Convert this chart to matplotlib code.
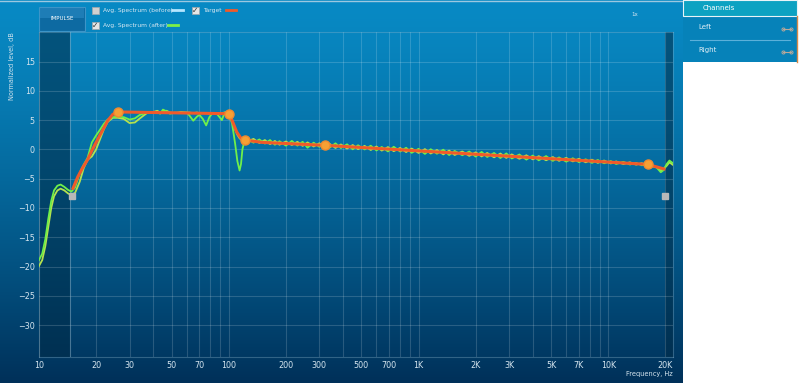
from __future__ import annotations

import matplotlib

matplotlib.use("Agg")
import matplotlib.pyplot as plt
import numpy as np
from matplotlib.lines import Line2D
from matplotlib.patches import Rectangle

# --- data --------------------------------------------------------------------
low_freq = [10, 10.4, 10.8, 11.2, 11.6, 12.0, 12.5, 13.0, 13.6, 14.2,
            14.8, 15.5, 16.4, 17.2, 18.0, 19.0, 20.0, 21.0, 22.0, 23.0,
            24.5, 26, 28, 30, 32, 34, 37, 40, 42, 43.5,
            45, 47, 49, 52, 56, 60, 62, 65, 68, 70,
            73, 76, 79, 82, 86, 89, 92, 95, 98, 100,
            104, 108, 111, 114, 116, 118, 121]
after_a_low = [-18.9, -17.8, -15.3, -11.8, -8.8, -7.0, -6.2, -6.0, -6.4, -6.9,
               -7.2, -6.5, -4.0, -2.6, -1.5, 1.2, 2.4, 3.4, 4.4, 5.1,
               5.5, 5.6, 5.5, 5.1, 5.3, 5.9, 6.3, 6.3, 6.4, 6.1,
               6.8, 6.5, 6.1, 6.3, 6.2, 6.3, 5.8, 4.9, 5.6, 5.9,
               5.2, 4.1, 5.5, 6.2, 6.2, 5.6, 5.0, 6.3, 6.3, 6.0,
               4.5, 1.0, -2.0, -3.6, -2.5, 0.0, 1.5]
after_b_low = [-19.9, -18.9, -16.5, -13.2, -10.0, -8.0, -7.0, -6.7, -7.0, -7.5,
               -7.8, -7.4, -5.5, -3.2, -1.8, -1.2, 0.0, 1.8, 3.5, 4.7,
               5.4, 5.4, 5.2, 4.5, 4.6, 5.3, 6.2, 6.4, 6.6, 6.3,
               6.5, 6.6, 6.3, 6.2, 6.4, 6.3, 6.3, 6.2, 6.3, 6.2,
               6.2, 6.2, 6.1, 6.2, 6.2, 6.1, 6.2, 6.3, 6.2, 6.1,
               5.0, 3.4, 2.5, 1.9, 1.7, 1.6, 1.5]

high_freq = [125, 135, 145, 155, 165, 175, 185, 200, 215, 230,
             245, 260, 280, 300, 320, 340, 365, 390, 420, 450,
             480, 520, 560, 600, 640, 690, 740, 800, 860, 920,
             1000, 1080, 1160, 1250, 1350, 1450, 1550, 1700, 1850, 2000,
             2150, 2300, 2500, 2700, 2900, 3100, 3400, 3700, 4000, 4300,
             4700, 5100, 5500, 6000, 6500, 7000, 7600, 8200, 8800, 9500,
             10300, 11000, 12000, 13000, 14000, 15000, 16000, 17000, 18000, 18900,
             19600, 20300, 21000, 21800]
after_a_high = [1.75, 1.15, 1.7, 1.0, 1.6, 0.8, 1.4, 0.65, 1.45, 0.65,
                1.3, 0.3, 1.15, 0.45, 1.1, 0.3, 1.04, 0.24, 0.87, 0.02,
                0.71, 0.0, 0.63, -0.17, 0.42, -0.34, 0.45, -0.36, 0.28, -0.58,
                0.1, -0.76, 0.03, -0.73, -0.05, -0.96, -0.26, -0.99, -0.36, -1.22,
                -0.43, -1.29, -0.61, -1.47, -0.68, -1.54, -0.87, -1.74, -1.05, -1.86,
                -1.14, -1.95, -1.37, -2.09, -1.51, -2.17, -1.69, -2.3, -1.81, -2.37,
                -1.99, -2.49, -2.12, -2.58, -2.29, -2.7, -2.6, -2.85, -3.1, -3.9,
                -3.5, -2.5, -1.9, -2.3]
after_b_high = [1.35, 1.8, 1.1, 1.6, 0.9, 1.45, 0.8, 1.35, 0.75, 1.3,
                0.6, 1.2, 0.5, 1.05, 0.4, 0.95, 0.25, 0.85, 0.15, 0.75,
                0.05, 0.6, -0.1, 0.5, -0.2, 0.4, -0.3, 0.25, -0.45, 0.15,
                -0.6, 0.05, -0.7, -0.1, -0.85, -0.2, -0.95, -0.35, -1.1, -0.5,
                -1.2, -0.6, -1.35, -0.7, -1.45, -0.85, -1.6, -1.0, -1.7, -1.15,
                -1.85, -1.3, -1.95, -1.45, -2.05, -1.6, -2.2, -1.75, -2.3, -1.9,
                -2.4, -2.05, -2.5, -2.2, -2.6, -2.35, -2.65, -2.8, -3.05, -3.6,
                -3.3, -2.8, -2.2, -2.6]

target_freq = [15, 16, 17, 18, 19, 20, 21, 22, 23, 24.5,
               26, 100, 104, 110, 116, 122, 150, 320, 16100, 20000]
target_db = [-6.9, -4.7, -3.1, -1.8, -0.2, 1.2, 2.5, 3.7, 4.9, 6.0,
             6.4, 6.1, 5.0, 3.0, 1.9, 1.6, 1.2, 0.7, -2.56, -3.4]

point_freq = [26, 100, 122, 320, 16100]
point_db = [6.4, 6.1, 1.6, 0.7, -2.56]

handle_freq = [15, 20000]
handle_db = [-7.9, -7.9]

x_ticks = [10, 20, 30, 50, 70, 100, 200, 300, 500, 700,
           1000, 2000, 3000, 5000, 7000, 10000, 20000]
x_labels = ["10", "20", "30", "50", "70", "100", "200", "300", "500", "700",
            "1K", "2K", "3K", "5K", "7K", "10K", "20K"]
x_minor = [40, 60, 80, 90, 400, 600, 800, 900, 4000, 6000, 8000, 9000]
y_ticks = [-30, -25, -20, -15, -10, -5, 0, 5, 10, 15]

W, H = 799, 383


def px(x, y):
    # pixel position (top-left origin) -> figure fraction
    return x / W, 1 - y / H


def fig_rect(fig, x0, y0, x1, y1, **kw):
    fx, fy = px(x0, y1)
    fig.add_artist(Rectangle((fx, fy), (x1 - x0) / W, (y1 - y0) / H,
                             transform=fig.transFigure, **kw))


def fig_line(fig, xs, ys, **kw):
    fig.add_artist(Line2D([x / W for x in xs], [1 - y / H for y in ys],
                          transform=fig.transFigure, **kw))


def checkbox(fig, x, y, checked):
    fig_rect(fig, x - 3.5, y - 3.5, x + 3.5, y + 3.5,
             facecolor="#d0d0d0" if not checked else "#e6e6e6",
             edgecolor="#9aa8b0", lw=0.6)
    if checked:
        fig.text(*px(x + 0.5, y), "\u2713", color="#303030", fontsize=5.5,
                 ha="center", va="center", fontweight="bold")


def main() -> None:
    fig = plt.figure(figsize=(W / 100, H / 100), dpi=100)
    fig.patch.set_facecolor("white")

    # gradient frame behind the chart
    bg = fig.add_axes([0, 0, 683 / W, 1])
    bg.set_axis_off()
    top = np.array([0.03, 0.54, 0.77])
    bot = np.array([0.0, 0.19, 0.35])
    t = np.linspace(0, 1, 256)[:, None]
    grad = top + (bot - top) * t ** 1.3
    bg.imshow(grad[:, None, :], aspect="auto", extent=[0, 1, 0, 1])
    bg.axhline(0.998, color="#9cc8e0", lw=1)

    x0, y_top = px(39, 32.3)
    x1, y_bot = px(673.3, 357.3)
    ax = fig.add_axes([x0, y_bot, x1 - x0, y_top - y_bot])
    ax.set_facecolor("none")
    ax.set_xscale("log")
    ax.set_xlim(10, 22000)
    ax.set_ylim(-35.5, 20)

    ax.axvspan(10, 14.6, color="#002a45", alpha=0.55, lw=0, zorder=0)
    ax.axvspan(20000, 22000, color="#002a45", alpha=0.55, lw=0, zorder=0)
    ax.axvline(14.6, color="#8fb0c4", alpha=0.5, lw=0.8)

    ax.set_xticks(x_ticks)
    ax.set_xticklabels(x_labels)
    ax.set_xticks(x_minor, minor=True)
    ax.set_yticks(y_ticks)
    ax.grid(True, which="both", color="white", alpha=0.16, lw=0.8)
    ax.tick_params(which="both", length=0, colors="#d4e4ee", labelsize=5.8)
    ax.tick_params(axis="x", pad=2.5)
    ax.tick_params(axis="y", pad=3)
    for s in ax.spines.values():
        s.set_color("#8fb6cc")
        s.set_alpha(0.35)
        s.set_linewidth(0.8)

    freq = low_freq + high_freq
    ax.plot(freq, after_b_low + after_b_high, color="#b4e24e", lw=1.3, zorder=3)
    ax.plot(freq, after_a_low + after_a_high, color="#6ff04a", lw=1.3, zorder=3)
    ax.plot(target_freq, target_db, color="#f05a2a", lw=2.2, zorder=4,
            solid_capstyle="butt")
    ax.plot(point_freq, point_db, "o", color="#f7a035", ms=6.5, mec="#f08a30",
            zorder=5)
    ax.plot(handle_freq, handle_db, "s", color="#b8b8b8", ms=4, zorder=5)

    fig.text(*px(12, 32), "Normalized level, dB", rotation=90, ha="center",
             va="top", fontsize=4.7, color="#d4e4ee")
    fig.text(*px(673, 374), "Frequency, Hz", ha="right", va="center",
             fontsize=4.8, color="#d4e4ee")

    # IMPULSE button
    fig_rect(fig, 39, 7, 85, 31, facecolor="#0d6aa2", edgecolor="#3d95c8", lw=0.8)
    fig_rect(fig, 40, 8, 84, 18, facecolor="#2a8bc4", lw=0, alpha=0.6)
    fig.text(*px(62, 19), "IMPULSE", ha="center", va="center", fontsize=4,
             color="white")

    # legend header
    text_kw = dict(fontsize=4.3, color="#d8e8f2", va="center", ha="left")
    checkbox(fig, 95, 10, False)
    fig.text(*px(103, 10.5), "Avg. Spectrum (before)", **text_kw)
    fig_line(fig, [172, 183], [10, 10], color="#b4e6ff", lw=2)
    checkbox(fig, 195, 10, True)
    fig.text(*px(203, 10.5), "Target", **text_kw)
    fig_line(fig, [226, 236], [10, 10], color="#f05a2a", lw=2)
    checkbox(fig, 95, 25, True)
    fig.text(*px(103, 25.5), "Avg. Spectrum (after)", **text_kw)
    fig_line(fig, [168, 178], [25, 25], color="#7cf046", lw=2)
    fig.text(*px(635, 15), "1x", fontsize=4, color="#d8e8f2", ha="center",
             va="center")

    # channels panel
    fig_rect(fig, 683, 16, 797, 62, facecolor="#0682b9", lw=0)
    fig_rect(fig, 683, 0.5, 797, 16, facecolor="#0ca2c2", edgecolor="#e8f4f8", lw=0.8)
    fig_line(fig, [797, 797], [16, 62], color="#d88a48", lw=1)
    fig.text(*px(719, 8), "Channels", fontsize=5, color="white", ha="center",
             va="center")
    fig.text(*px(698, 27), "Left", fontsize=5, color="#e0eef6", ha="left",
             va="center")
    fig.text(*px(698, 50), "Right", fontsize=5, color="#e0eef6", ha="left",
             va="center")
    fig_line(fig, [690, 790], [40, 40], color="#5cb0da", lw=0.8)
    for yy in (29, 52):
        fig_line(fig, [783, 791], [yy, yy], color="#b8a89a", lw=0.8, marker="o",
                 ms=2.2, mfc="none", mew=0.7)

    fig.savefig("out.png", dpi=100, facecolor=fig.get_facecolor())
    plt.close(fig)


if __name__ == "__main__":
    main()
